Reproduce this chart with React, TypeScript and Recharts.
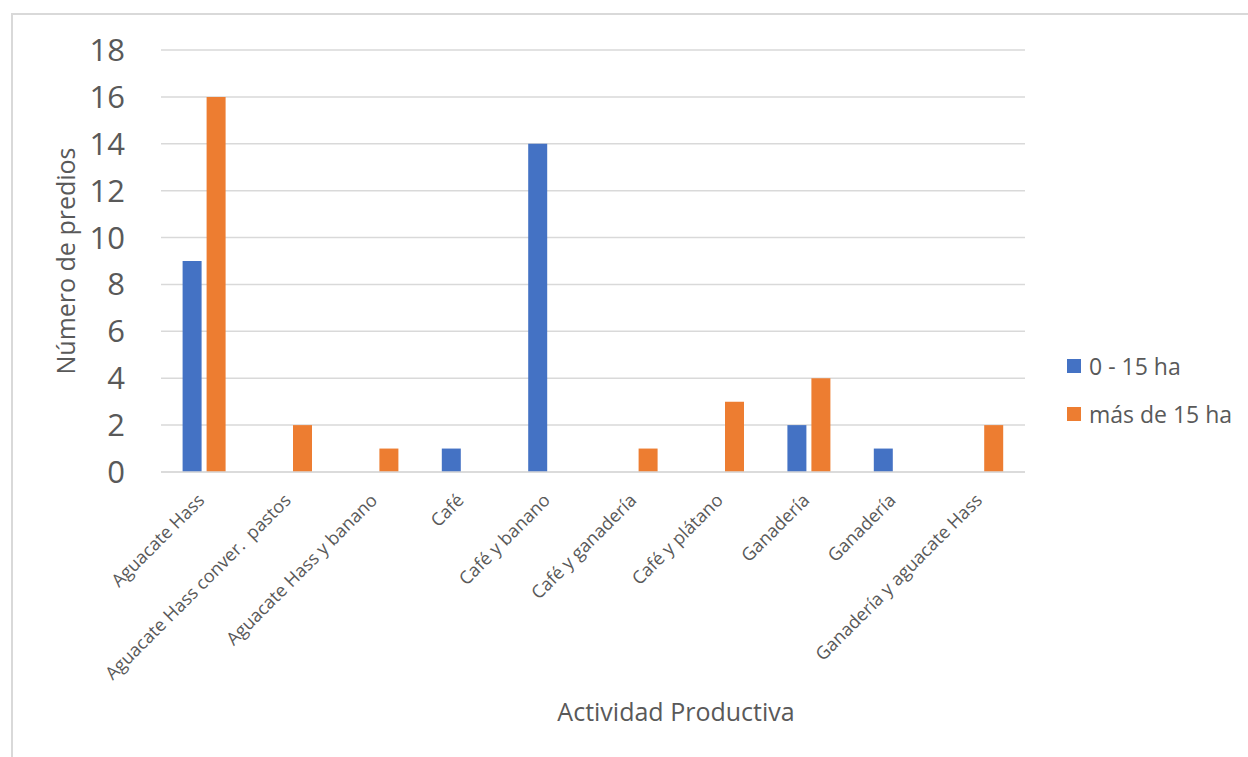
import React from "react";
import { BarChart, Bar, XAxis, YAxis, CartesianGrid } from "recharts";

// Productive activity categories (two distinct "Ganadería" entries in the source table)
const categories = [
  "Aguacate Hass",
  "Aguacate Hass conver.  pastos",
  "Aguacate Hass y banano",
  "Café",
  "Café y banano",
  "Café y ganadería",
  "Café y plátano",
  "Ganadería",
  "Ganadería",
  "Ganadería y aguacate Hass",
];

const seriesNames = ["0 - 15 ha", "más de 15 ha"];
const smallFarms = [9, 0, 0, 1, 14, 0, 0, 2, 1, 0];
const largeFarms = [16, 2, 1, 0, 0, 1, 3, 4, 0, 2];
const yTicks = [0, 2, 4, 6, 8, 10, 12, 14, 16, 18];

const colors = ["#4472C4", "#ED7D31"];
const textColor = "#595959";
const font = "'Open Sans', sans-serif";

const data = categories.map((name, i) => ({
  key: i,
  name,
  small: smallFarms[i] || null,
  large: largeFarms[i] || null,
}));

const CategoryTick = (props: any) => {
  const { x, y, payload } = props;
  const label = categories[payload.value];
  return (
    <g transform={`translate(${x - 3},${y + 17})`}>
      <text
        transform="rotate(-45)"
        textAnchor="end"
        dy="0.35em"
        fill={textColor}
        fontSize={18}
        fontFamily={font}
        style={{ whiteSpace: "pre" }}
      >
        {label}
      </text>
    </g>
  );
};

const XTitle = (props: any) => {
  const vb = props.viewBox;
  return (
    <text
      x={vb.x + vb.width / 2 + 83}
      y={vb.y + vb.height - 36}
      textAnchor="middle"
      fill={textColor}
      fontSize={25}
      fontFamily={font}
    >
      Actividad Productiva
    </text>
  );
};

const YTitle = (props: any) => {
  const vb = props.viewBox;
  const cx = vb.x + 65;
  const cy = vb.y + vb.height / 2;
  return (
    <text
      x={cx}
      y={cy}
      transform={`rotate(-90, ${cx}, ${cy})`}
      textAnchor="middle"
      dominantBaseline="central"
      fill={textColor}
      fontSize={25}
      fontFamily={font}
    >
      Número de predios
    </text>
  );
};

export default function App() {
  return (
    <div
      style={{
        position: "absolute",
        left: 0,
        top: 0,
        width: 1248,
        height: 757,
        overflow: "hidden",
        background: "#fff",
        fontFamily: font,
      }}
    >
      <div
        style={{
          position: "absolute",
          left: 11,
          top: 13,
          width: 1260,
          height: 780,
          border: "2px solid #d9d9d9",
          boxSizing: "border-box",
        }}
      />
      <div style={{ position: "absolute", left: 0, top: 0 }}>
        <BarChart
          width={1248}
          height={757}
          data={data}
          margin={{ top: 50, right: 223, left: 0, bottom: 0 }}
          barCategoryGap="25%"
          barGap={5}
        >
          <CartesianGrid vertical={false} stroke="#d9d9d9" strokeWidth={1.5} />
          <XAxis
            dataKey="key"
            type="category"
            height={285}
            tickLine={false}
            axisLine={{ stroke: "#d9d9d9", strokeWidth: 1.5 }}
            interval={0}
            tick={<CategoryTick />}
            label={<XTitle />}
          />
          <YAxis
            width={161}
            domain={[0, 18]}
            ticks={yTicks}
            interval={0}
            tickLine={false}
            axisLine={false}
            tickSize={0}
            tickMargin={36}
            tick={{ fill: textColor, fontSize: 31, fontFamily: font }}
            label={<YTitle />}
          />
          <Bar dataKey="small" name={seriesNames[0]} fill={colors[0]} isAnimationActive={false} />
          <Bar dataKey="large" name={seriesNames[1]} fill={colors[1]} isAnimationActive={false} />
        </BarChart>
      </div>
      <div style={{ position: "absolute", left: 1067, top: 342 }}>
        {seriesNames.map((n, i) => (
          <div
            key={n}
            style={{
              display: "flex",
              alignItems: "center",
              height: 48,
              color: textColor,
              fontSize: 23,
              fontFamily: font,
            }}
          >
            <span
              style={{
                display: "inline-block",
                width: 14,
                height: 14,
                background: colors[i],
                marginRight: 8,
              }}
            />
            {n}
          </div>
        ))}
      </div>
    </div>
  );
}
